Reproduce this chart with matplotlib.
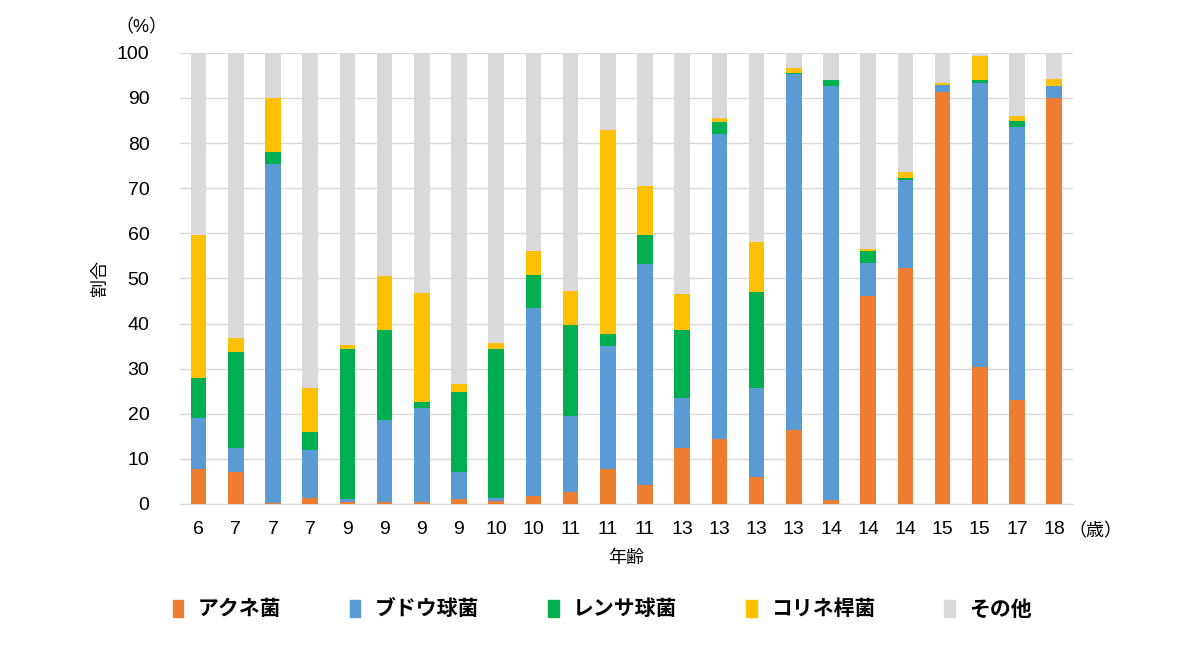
import numpy as np
import matplotlib.pyplot as plt
from matplotlib.patches import Patch

plt.rcParams['font.family'] = ['Noto Sans CJK JP', 'DejaVu Sans']

ages = ['6', '7', '7', '7', '9', '9', '9', '9', '10', '10', '11', '11',
        '11', '13', '13', '13', '13', '14', '14', '14', '15', '15', '17', '18']

acne = [7.7, 7.0, 0.3, 1.4, 0.5, 0.5, 0.5, 1.0, 0.7, 1.8, 2.7, 7.7,
        4.1, 12.5, 14.3, 5.9, 16.5, 0.9, 46.2, 52.2, 91.4, 30.3, 23.0, 90.0]
staph = [11.4, 5.5, 75.0, 10.6, 0.5, 18.2, 20.8, 6.0, 0.7, 41.7, 16.9, 27.4,
         49.1, 11.1, 67.8, 19.7, 78.8, 91.8, 7.3, 19.7, 1.4, 63.1, 60.5, 2.6]
strep = [8.8, 21.1, 2.7, 4.0, 33.4, 19.9, 1.4, 17.9, 32.9, 7.2, 20.0, 2.6,
         6.5, 15.0, 2.6, 21.3, 0.2, 1.3, 2.6, 0.3, 0.1, 0.5, 1.4, 0.1]
coryne = [31.7, 3.3, 12.0, 9.6, 0.8, 12.0, 24.0, 1.7, 1.4, 5.4, 7.7, 45.3,
          10.8, 7.9, 0.9, 11.2, 1.1, 0.0, 0.5, 1.4, 0.3, 5.4, 1.1, 1.5]

names = ['アクネ菌', 'ブドウ球菌', 'レンサ球菌', 'コリネ桿菌', 'その他']
colors = ['#ED7D31', '#5B9BD5', '#00B050', '#FFC000', '#D9D8DB']

series = np.array([acne, staph, strep, coryne], dtype=float)
other = 100 - series.sum(axis=0)
series = np.vstack([series, other])

fig = plt.figure(figsize=(12, 6.52), dpi=100)
ax = fig.add_axes([0.15, 0.227, 0.744, 0.692])

x = np.arange(len(ages))
bottom = np.zeros(len(ages))
for vals, c in zip(series, colors):
    ax.bar(x, vals, width=0.42, bottom=bottom, color=c, zorder=3)
    bottom += vals

numfont = ['Liberation Sans', 'Noto Sans CJK JP']
ax.set_xlim(-0.5, len(ages) - 0.5)
ax.set_ylim(0, 100)
ax.set_yticks(range(0, 101, 10))
ax.set_xticks(x)
ax.set_xticklabels(ages)
for lab in ax.get_xticklabels() + ax.get_yticklabels():
    lab.set_family(numfont)
ax.tick_params(axis='both', length=0, labelsize=14)
ax.tick_params(axis='y', pad=22)
ax.tick_params(axis='x', pad=12)
ax.grid(axis='y', color='#D9D9D9', linewidth=1, zorder=0)
for s in ['top', 'right', 'left']:
    ax.spines[s].set_visible(False)
ax.spines['bottom'].set_color('#D9D9D9')

ax.set_xlabel('年齢', fontsize=13, labelpad=8)
ax.set_ylabel('割合', fontsize=13, labelpad=6)
fig.text(0.118, 0.958, '（%）', fontsize=13, ha='center', va='center', family=numfont)
fig.text(0.913, 0.185, '（歳）', fontsize=13, ha='center', va='center')

handles = [Patch(color=c) for c in colors]
fig.legend(handles, names, loc='center', bbox_to_anchor=(0.502, 0.066), ncol=5,
           frameon=False, handlelength=0.5, handleheight=0.9, handletextpad=0.7,
           columnspacing=3.3, prop={'size': 15, 'weight': 'bold'})

fig.savefig('out.png')
